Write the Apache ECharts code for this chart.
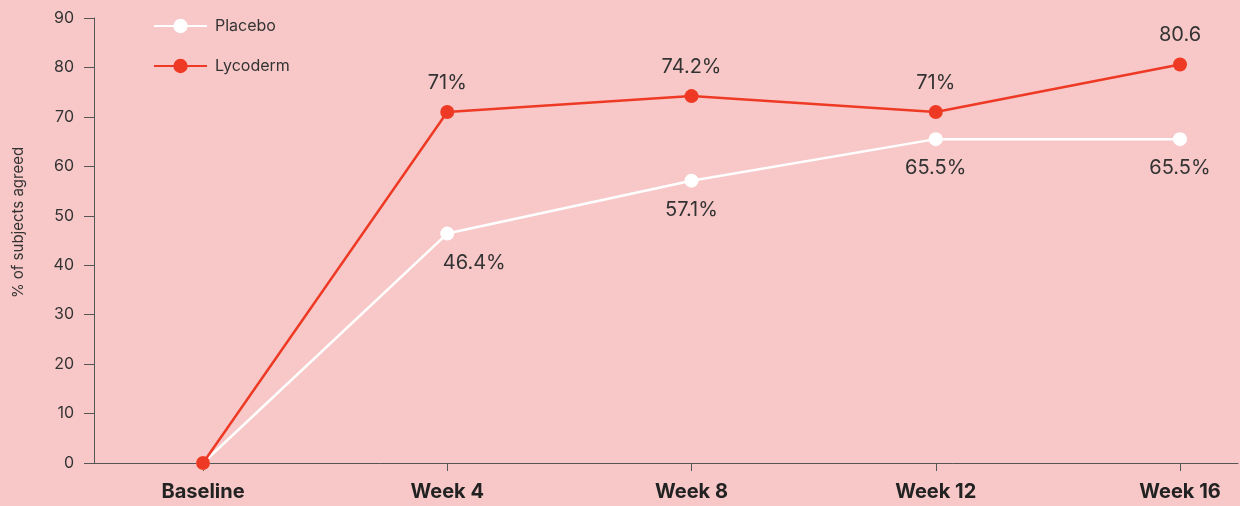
<!DOCTYPE html>
<html>
<head>
<meta charset="utf-8">
<title>Lycoderm vs Placebo</title>
<script src="https://cdn.jsdelivr.net/npm/echarts@6/dist/echarts.min.js"></script>
<style>
  html, body { margin: 0; padding: 0; background: #f8c8c8; }
  #chart { width: 1240px; height: 506px; }
</style>
</head>
<body>
<div id="chart"></div>
<script>
const categories = ['Baseline', 'Week 4', 'Week 8', 'Week 12', 'Week 16'];
const placeboValues = [0, 46.4, 57.1, 65.5, 65.5];
const lycodermValues = [0, 71, 74.2, 71, 80.6];
const placeboLabels = ['', '46.4%', '57.1%', '65.5%', '65.5%'];
const lycodermLabels = ['', '71%', '74.2%', '71%', '80.6'];
const yTicks = [0, 10, 20, 30, 40, 50, 60, 70, 80, 90];

const textColor = '#333';
const axisColor = '#555';
const font = 'Inter, "Noto Sans", sans-serif';

const chart = echarts.init(document.getElementById('chart'));

function withLabels(values, labels, extra) {
    return values.map((v, i) => {
        const item = { value: v, label: { formatter: labels[i] } };
        if (extra && extra[i]) Object.assign(item.label, extra[i]);
        return item;
    });
}

chart.setOption({
    backgroundColor: '#f8c8c8',
    textStyle: { fontFamily: font },
    legend: {
        orient: 'vertical',
        left: 153,
        top: 18,
        padding: 0,
        itemWidth: 53,
        itemHeight: 18,
        itemGap: 24,
        textStyle: { color: textColor, fontSize: 16, fontFamily: font, padding: [0, 0, 0, 3] },
        data: ['Placebo', 'Lycoderm']
    },
    grid: [
        { left: 203, right: 60, top: 18, bottom: 43, outerBoundsMode: 'none' },
        { left: 94, right: 2, top: 18, bottom: 43, outerBoundsMode: 'none' }
    ],
    xAxis: [
        {
            type: 'category',
            gridIndex: 0,
            data: categories,
            boundaryGap: false,
            axisLine: { show: false },
            axisTick: { show: true, length: 8, lineStyle: { color: axisColor } },
            axisLabel: {
                color: '#222',
                fontSize: 20,
                fontWeight: 'bold',
                margin: 19,
                fontFamily: font
            }
        },
        {
            type: 'value',
            gridIndex: 1,
            min: 0,
            max: 1,
            axisLine: { show: true, lineStyle: { color: axisColor } },
            axisTick: { show: false },
            axisLabel: { show: false },
            splitLine: { show: false }
        }
    ],
    yAxis: [
        {
            type: 'value',
            gridIndex: 0,
            min: 0,
            max: 90,
            show: false
        },
        {
            type: 'value',
            gridIndex: 1,
            min: yTicks[0],
            max: yTicks[yTicks.length - 1],
            interval: 10,
            name: '% of subjects agreed',
            nameLocation: 'middle',
            nameGap: 68,
            nameTextStyle: { color: textColor, fontSize: 15, padding: [0, 0, 0, 36] },
            axisLine: { show: true, lineStyle: { color: axisColor } },
            axisTick: { show: true, length: 10, lineStyle: { color: axisColor } },
            axisLabel: { color: textColor, fontSize: 16, margin: 20 },
            splitLine: { show: false }
        }
    ],
    series: [
        {
            name: 'Placebo',
            type: 'line',
            xAxisIndex: 0,
            yAxisIndex: 0,
            data: withLabels(placeboValues, placeboLabels, [null, { offset: [27, 0] }]),
            symbol: 'circle',
            symbolSize: 14,
            itemStyle: { color: '#ffffff' },
            lineStyle: { color: '#ffffff', width: 2.5 },
            label: {
                show: true,
                position: 'bottom',
                distance: 12,
                color: textColor,
                fontSize: 20,
                fontFamily: font
            },
            z: 2
        },
        {
            name: 'Lycoderm',
            type: 'line',
            xAxisIndex: 0,
            yAxisIndex: 0,
            data: withLabels(lycodermValues, lycodermLabels),
            symbol: 'circle',
            symbolSize: 14,
            itemStyle: { color: '#ee3a25' },
            lineStyle: { color: '#ee3a25', width: 2.5 },
            label: {
                show: true,
                position: 'top',
                distance: 12,
                color: textColor,
                fontSize: 20,
                fontFamily: font
            },
            z: 3
        }
    ]
});
</script>
</body>
</html>
